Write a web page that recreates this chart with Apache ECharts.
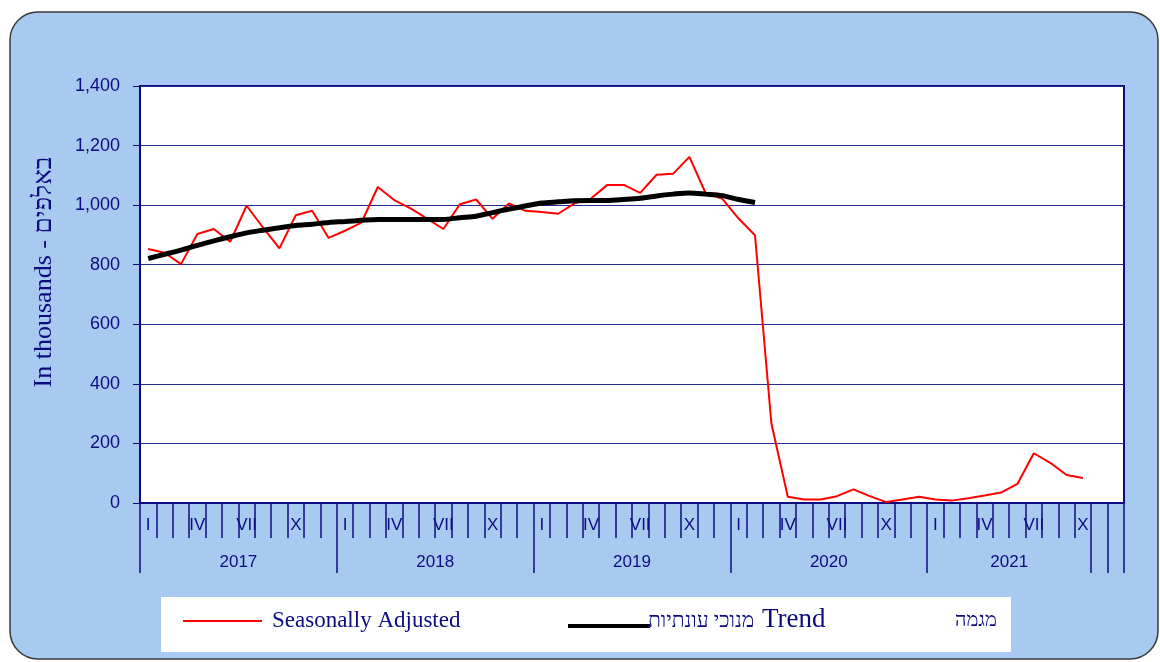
<!DOCTYPE html>
<html>
<head>
<meta charset="utf-8">
<script src="https://cdn.jsdelivr.net/npm/echarts@6/dist/echarts.min.js"></script>
<style>
  html, body { margin: 0; padding: 0; background: #fff; }
  #chart { width: 1160px; height: 662px; }
</style>
</head>
<body>
<div id="chart"></div>
<script>
const years = ['2017', '2018', '2019', '2020', '2021']
const monthLabels = ['I', '', '', 'IV', '', '', 'VII', '', '', 'X', '', '']
// year label positions (in months from Jan 2017) and boundary ticks
const yearLabelAt = [6, 18, 30, 42, 53]
const yearTicksAt = [0, 12, 24, 36, 48, 58, 59, 60]

const seasonallyAdjusted = [
  853, 840, 802, 903, 920, 877, 998, 925, 855, 966, 981, 890,
  914, 941, 1061, 1017, 989, 955, 920, 1003, 1019, 954, 1006, 981,
  977, 971, 1006, 1022, 1068, 1068, 1041, 1102, 1105, 1162, 1039, 1022,
  955, 899, 267, 21, 12, 12, 23, 46, 23, 3, 12, 21,
  12, 8, 16, 25, 35, 64, 167, 135, 94, 84
]
const trend = [
  821, 835, 849, 865, 880, 894, 907, 916, 924, 932, 936, 942,
  945, 949, 952, 952, 952, 952, 952, 958, 963, 975, 987, 997,
  1007, 1011, 1015, 1016, 1016, 1019, 1023, 1031, 1037, 1041, 1037, 1032,
  1019, 1009
]

const categories = []
years.forEach(y => {
  monthLabels.forEach((m, i) => {
    categories.push(y + '-' + (i + 1))
  })
})

const navy = '#0c0c80'
const serif = '"Liberation Serif", "Times New Roman", serif'
const chart = echarts.init(document.getElementById('chart'))

const option = {
  backgroundColor: '#fff',
  animation: false,
  textStyle: {
    fontFamily: 'Liberation Sans, Arial, sans-serif'
  },
  graphic: [
    {
      type: 'rect',
      z: -10,
      shape: { x: 10, y: 12, width: 1148, height: 647, r: 28 },
      style: { fill: '#a8caf0', stroke: '#3a3a3a', lineWidth: 1.5 }
    },
    {
      type: 'rect',
      z: -5,
      shape: { x: 161, y: 597, width: 850, height: 55 },
      style: { fill: '#fff' }
    },
    {
      type: 'text',
      x: 44,
      y: 272,
      rotation: Math.PI / 2,
      style: {
        text: 'In thousands - באלפים',
        font: '26px ' + serif,
        fill: navy,
        align: 'center',
        verticalAlign: 'middle'
      }
    },
    {
      type: 'line',
      shape: { x1: 183, y1: 621, x2: 262, y2: 621 },
      style: { stroke: '#ff0000', lineWidth: 2 }
    },
    {
      type: 'text',
      x: 272,
      y: 621,
      style: {
        text: 'Seasonally Adjusted',
        font: '23px ' + serif,
        fill: navy,
        verticalAlign: 'middle'
      }
    },
    {
      type: 'line',
      shape: { x1: 568, y1: 626, x2: 650, y2: 626 },
      style: { stroke: '#000', lineWidth: 4 }
    },
    {
      type: 'text',
      x: 648,
      y: 621,
      style: {
        text: 'מנוכי עונתיות',
        font: '21px ' + serif,
        fill: navy,
        verticalAlign: 'middle'
      }
    },
    {
      type: 'text',
      x: 762,
      y: 620,
      style: {
        text: 'Trend',
        font: '27px ' + serif,
        fill: navy,
        verticalAlign: 'middle'
      }
    },
    {
      type: 'text',
      x: 955,
      y: 621,
      style: {
        text: 'מגמה',
        font: '20px ' + serif,
        fill: navy,
        verticalAlign: 'middle'
      }
    }
  ],
  grid: {
    left: 140,
    right: 36,
    top: 86,
    bottom: 159,
    show: true,
    backgroundColor: '#fff',
    borderColor: navy,
    borderWidth: 2
  },
  xAxis: [
    {
      type: 'category',
      data: categories,
      boundaryGap: true,
      axisLine: { lineStyle: { color: navy, width: 2 } },
      axisTick: {
        show: true,
        interval: 0,
        length: 35,
        lineStyle: { color: navy, width: 1.5 }
      },
      axisLabel: {
        interval: 0,
        margin: 14,
        fontSize: 17,
        color: navy,
        formatter: (value, index) => monthLabels[index % 12]
      },
      splitLine: { show: false }
    },
    {
      type: 'value',
      position: 'bottom',
      min: 0,
      max: 60,
      axisLine: { show: false },
      axisTick: {
        show: true,
        length: 70,
        customValues: yearTicksAt,
        lineStyle: { color: navy, width: 1.5 }
      },
      axisLabel: {
        customValues: yearLabelAt,
        margin: 51,
        fontSize: 17,
        color: navy,
        formatter: value => years[yearLabelAt.indexOf(value)] || ''
      },
      splitLine: { show: false }
    }
  ],
  yAxis: {
    type: 'value',
    min: 0,
    max: 1400,
    interval: 200,
    axisLine: { show: true, lineStyle: { color: navy, width: 2 } },
    axisTick: { show: true, length: 7, lineStyle: { color: navy } },
    axisLabel: {
      margin: 20,
      fontSize: 18,
      color: navy,
      formatter: value => value.toLocaleString('en-US')
    },
    splitLine: { lineStyle: { color: '#2a2a90', width: 1 } }
  },
  series: [
    {
      name: 'Seasonally Adjusted',
      type: 'line',
      data: seasonallyAdjusted,
      symbol: 'none',
      lineStyle: { color: '#ff0000', width: 2 },
      z: 3
    },
    {
      name: 'Trend',
      type: 'line',
      data: trend,
      symbol: 'none',
      smooth: 0.3,
      lineStyle: { color: '#000', width: 5 },
      z: 4
    }
  ]
}

chart.setOption(option)
</script>
</body>
</html>
